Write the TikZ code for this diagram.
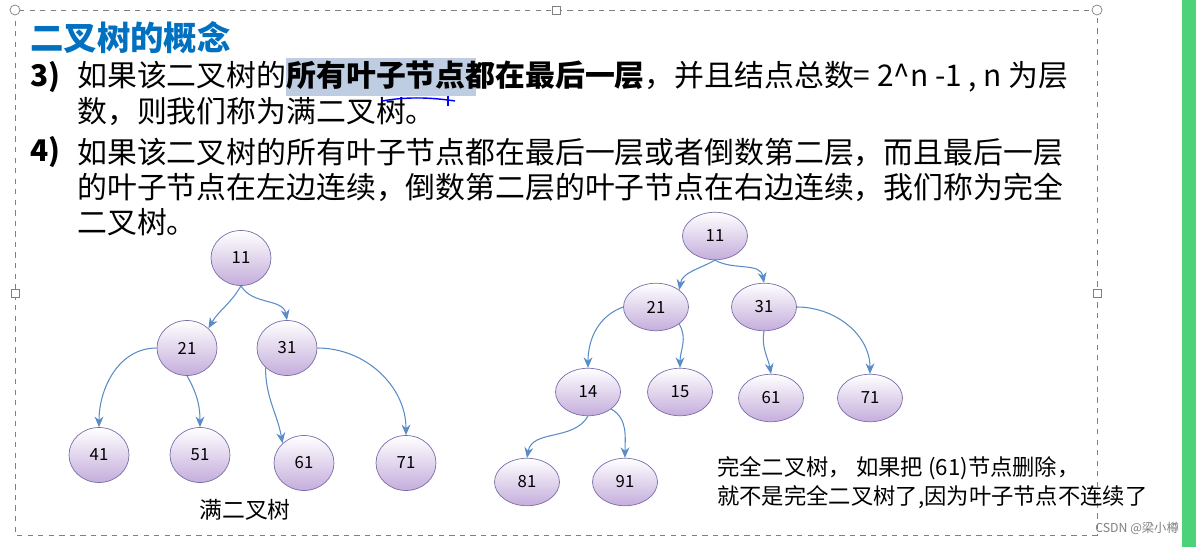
\documentclass[tikz,border=0pt]{standalone}
\usepackage{fontspec}
\setmainfont{Noto Sans CJK SC}
\usetikzlibrary{shapes.geometric,arrows.meta}
\definecolor{titleblue}{RGB}{0,112,192}
\definecolor{edgeblue}{RGB}{90,140,200}
\definecolor{nodefill}{RGB}{204,192,230}
\definecolor{nodeedge}{RGB}{120,110,170}
\definecolor{hilite}{RGB}{190,205,225}
\tikzset{
  tnode/.style={ellipse,draw=nodeedge,top color=white,bottom color=nodefill!90!violet,
    minimum width=1.2cm,minimum height=1.1cm,inner sep=0pt,font=\fontsize{9.5}{9.5}\selectfont},
  tedge/.style={draw=edgeblue,semithick,-{Stealth[length=6pt,width=5pt]}},
  txt/.style={anchor=west,inner sep=0pt,font=\fontsize{17}{18}\selectfont},
}
\begin{document}
\begin{tikzpicture}[x=0.02cm,y=-0.02cm]
\useasboundingbox (0,0) rectangle (1196,547);
\fill[white] (0,0) rectangle (1196,547);
\fill[green!50!teal!70] (1182,0) rectangle (1196,547);
% frame
\draw[gray,dashed] (15,10) rectangle (1097,535);
\foreach \x/\y in {15/10,1097/10} \draw[gray,fill=white] (\x,\y) circle (5);
\foreach \x/\y in {556/10,15/293,1097/293} \draw[gray,fill=white] (\x-4,\y-4) rectangle (\x+4,\y+4);
% text
\node[txt,text=titleblue,font=\fontsize{19}{19}\selectfont\bfseries] (title) at (30,38) {二叉树的概念};
\fill[hilite] (286,58) rectangle (476,96);
\node[txt] (n3) at (30,77) {\textbf{3)}};
\node[txt] (l1) at (77,77) {如果该二叉树的\textbf{所有叶子节点都在最后一层}，并且结点总数= 2\^{}n -1 , n 为层};
\node[txt] (l2) at (77,112) {数，则我们称为满二叉树。};
\draw[blue,thick] (382,101) .. controls (410,96) and (435,98) .. (455,101);
\draw[blue,thick] (448,96) -- (448,106);
\node[txt] (n4) at (30,152) {\textbf{4)}};
\node[txt] (l3) at (77,152) {如果该二叉树的所有叶子节点都在最后一层或者倒数第二层，而且最后一层};
\node[txt] (l4) at (77,187) {的叶子节点在左边连续，倒数第二层的叶子节点在右边连续，我们称为完全};
\node[txt] (l5) at (77,222) {二叉树。};
% left tree
\node[tnode] (a11) at (241,258) {11};
\node[tnode] (a21) at (187,348) {21};
\node[tnode] (a31) at (287,348) {31};
\node[tnode] (a41) at (99,455) {41};
\node[tnode] (a51) at (200,455) {51};
\node[tnode] (a61) at (304,463) {61};
\node[tnode] (a71) at (406,463) {71};
\draw[tedge] (a11.south) to[out=-120,in=60] (a21.north east);
\draw[tedge] (a11.south) to[out=-60,in=100] (a31.north);
\draw[tedge] (a21.west) to[out=180,in=90] (a41.north);
\draw[tedge] (a21.south) to[out=-60,in=90] (a51.north);
\draw[tedge] (a31.south west) to[out=-90,in=100] (a61.north west);
\draw[tedge] (a31.east) to[out=0,in=90] (a71.north);
\node[font=\fontsize{13}{13}\selectfont] (lbla) at (245,510) {满二叉树};
% right tree
\tikzset{tnode/.append style={minimum height=0.95cm,minimum width=1.3cm}}
\node[tnode] (b11) at (715,236) {11};
\node[tnode] (b21) at (656,307) {21};
\node[tnode] (b31) at (764,307) {31};
\node[tnode] (b14) at (588,392) {14};
\node[tnode] (b15) at (680,392) {15};
\node[tnode] (b61) at (771,398) {61};
\node[tnode] (b71) at (870,398) {71};
\node[tnode] (b81) at (527,482) {81};
\node[tnode] (b91) at (625,482) {91};
\draw[tedge] (b11.south) to[out=-150,in=80] (b21.north east);
\draw[tedge] (b11.south) to[out=-30,in=100] (b31.north);
\draw[tedge] (b21.west) to[out=-160,in=90] (b14.north);
\draw[tedge] (b21.south east) to[out=-60,in=90] (b15.north);
\draw[tedge] (b31.south) to[out=-100,in=100] (b61.north);
\draw[tedge] (b31.east) to[out=0,in=90] (b71.north);
\draw[tedge] (b14.south) to[out=-120,in=80] (b81.north);
\draw[tedge] (b14.south east) to[out=-30,in=90] (b91.north);
\node[txt,font=\fontsize{12.7}{12.7}\selectfont] (lblb1) at (717,468) {完全二叉树， 如果把 (61)节点删除，};
\node[txt,font=\fontsize{12.7}{12.7}\selectfont] (lblb2) at (717,497) {就不是完全二叉树了,因为叶子节点不连续了};
\node[anchor=east,text=gray,font=\fontsize{7}{7}\selectfont] (wm) at (1185,528) {CSDN @梁小樽};
\end{tikzpicture}
\end{document}
